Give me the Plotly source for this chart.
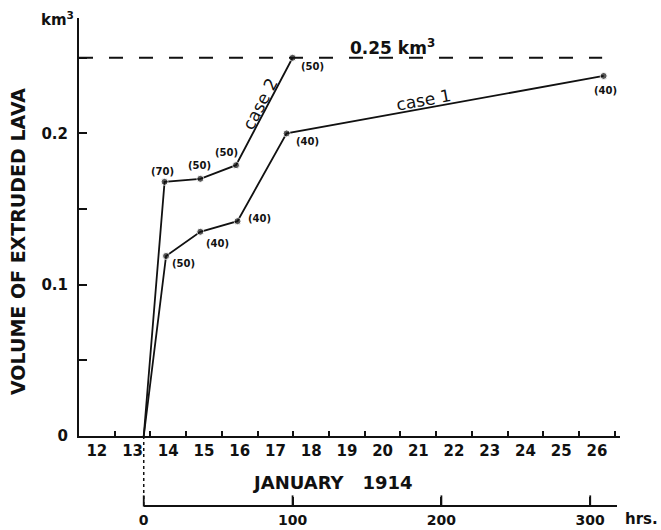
import math
import plotly.graph_objects as go

# Cumulative volume of extruded lava (km^3) against hours since eruption onset
case1_hours = [0, 15, 38, 63, 96, 309]
case1_volume = [0, 0.119, 0.135, 0.142, 0.200, 0.238]
case1_labels = ["", "(50)", "(40)", "(40)", "(40)", "(40)"]

case2_hours = [0, 14, 38, 62, 100]
case2_volume = [0, 0.168, 0.170, 0.179, 0.250]
case2_labels = ["", "(70)", "(50)", "(50)", "(50)"]

total_volume = 0.25
days = list(range(12, 27))
hour_ticks = [0, 100, 200, 300]
y_tickvals = [0, 0.05, 0.10, 0.15, 0.20, 0.25]
y_ticktext = ["0", "", "0.1", "", "0.2", ""]

JAN14_MIDNIGHT = 4.5  # hours from onset to 00:00 on 14 January


def day_start(d):
    return JAN14_MIDNIGHT + 24 * (d - 14)


# ---- geometry -------------------------------------------------------------
W, H = 661, 530
ML, MR, MT, MB = 79, 41, 18, 25
PW, PH = W - ML - MR, H - MT - MB
XMIN, XMAX = day_start(12), day_start(27) + 3.5
YMAX = 0.2763
YDOM0 = 69 / PH
HOURS_END = 318
HOURS_DOM = 0.05          # height fraction of the strip holding the hours axis
HOUR_TICK_PX = 8

px_per_hour = PW / (XMAX - XMIN)
px_per_unit = PH * (1 - YDOM0) / YMAX

FONT = "DejaVu Sans"
INK = "#111111"

fig = go.Figure()


def add_case(hours, vol):
    fig.add_trace(go.Scatter(
        x=hours, y=vol, mode="lines+markers",
        line=dict(color=INK, width=1.8),
        marker=dict(color=INK, size=[0] + [7] * (len(hours) - 1)),
        showlegend=False, hoverinfo="skip",
    ))


add_case(case1_hours, case1_volume)
add_case(case2_hours, case2_volume)

# placeholder trace so the day-label axis gets drawn
fig.add_trace(go.Scatter(x=[None], y=[None], xaxis="x2", yaxis="y",
                         showlegend=False, hoverinfo="skip"))

# upward tick marks on the hours scale
tick_mid = (HOUR_TICK_PX / 2) / (HOURS_DOM * PH)
fig.add_trace(go.Scatter(
    x=hour_ticks, y=[tick_mid] * len(hour_ticks), xaxis="x3", yaxis="y2",
    mode="markers",
    marker=dict(symbol="line-ns", size=HOUR_TICK_PX,
                line=dict(color=INK, width=1.8)),
    showlegend=False, hoverinfo="skip", cliponaxis=False,
))

# ---- point annotations ------------------------------------------------------
label_font = dict(family=FONT, size=10, color=INK, weight="bold")
case1_offsets = [None, (17, -8), (17, -12), (22, 3), (21, -8), (2, -15)]
case2_offsets = [None, (-2, 10), (-1, 13), (-10, 13), (20, -9)]

annotations = []
for hours, vol, labels, offs in [
    (case1_hours, case1_volume, case1_labels, case1_offsets),
    (case2_hours, case2_volume, case2_labels, case2_offsets),
]:
    for h, v, t, o in zip(hours, vol, labels, offs):
        if not t:
            continue
        annotations.append(dict(
            x=h, y=v, xref="x", yref="y", text=t, showarrow=False,
            xanchor="center", yanchor="middle",
            xshift=o[0], yshift=o[1], font=label_font,
        ))


def case_label(hours, vol, i, text, dx, dy):
    h0, h1 = hours[i], hours[i + 1]
    v0, v1 = vol[i], vol[i + 1]
    ang = math.degrees(math.atan2((v1 - v0) * px_per_unit,
                                  (h1 - h0) * px_per_hour))
    return dict(
        x=(h0 + h1) / 2, y=(v0 + v1) / 2, xref="x", yref="y",
        text=text, showarrow=False, textangle=-ang,
        xanchor="center", yanchor="middle",
        xshift=dx, yshift=dy,
        font=dict(family=FONT, size=17, color=INK),
    )


annotations.append(case_label(case2_hours, case2_volume, 3, "case 2", -4, 7))
annotations.append(case_label(case1_hours, case1_volume, 4, "case 1", -22, 5))


def paper_text(px, py, text, size, angle=0):
    return dict(
        x=(px - ML) / PW, y=(H - MB - py) / PH, xref="paper", yref="paper",
        xanchor="center", yanchor="middle", text=text, textangle=angle,
        showarrow=False,
        font=dict(family=FONT, size=size, color=INK, weight="bold"),
    )


annotations += [
    dict(x=167, y=total_volume, xref="x", yref="y", yshift=11,
         xanchor="center", yanchor="middle",
         text="0.25 km<sup>3</sup>", showarrow=False,
         font=dict(family=FONT, size=17, color=INK, weight="bold")),
    paper_text(57, 19, "km<sup>3</sup>", 15),
    paper_text(18, 242, "VOLUME OF EXTRUDED LAVA", 19, -90),
    paper_text(332, 482, "JANUARY\u00a0\u00a0\u00a01914", 18),
    paper_text(641, 519, "hrs.", 15),
]

# ---- reference lines ---------------------------------------------------------
shapes = [
    dict(type="line", xref="x", yref="y", x0=XMIN, x1=case1_hours[-1] - 1,
         y0=total_volume, y1=total_volume,
         line=dict(color=INK, width=2, dash="14px,16px")),
    dict(type="line", xref="x", yref="paper", x0=0, x1=0, y0=0, y1=YDOM0,
         line=dict(color=INK, width=1.5, dash="dot")),
]

tick_font = dict(family=FONT, size=15, color=INK, weight="bold")

fig.update_layout(
    width=W, height=H,
    margin=dict(l=ML, r=MR, t=MT, b=MB, autoexpand=False),
    paper_bgcolor="white", plot_bgcolor="rgba(0,0,0,0)",
    showlegend=False,
    annotations=annotations, shapes=shapes,
    xaxis=dict(
        range=[XMIN, XMAX], anchor="y", automargin=False,
        showline=True, linecolor=INK, linewidth=2,
        tickmode="array", tickvals=[day_start(d) for d in days[1:]] + [day_start(27)],
        ticks="inside", ticklen=5, tickwidth=1.5, tickcolor=INK,
        showticklabels=False, showgrid=False, zeroline=False,
    ),
    xaxis2=dict(
        range=[XMIN, XMAX], overlaying="x", anchor="y", side="bottom",
        automargin=False,
        tickmode="array", tickvals=[day_start(d) + 12 for d in days],
        ticktext=[str(d) for d in days], ticks="", ticklabelstandoff=4,
        tickfont=tick_font, showline=False, showgrid=False, zeroline=False,
    ),
    xaxis3=dict(
        domain=[(0 - XMIN) / (XMAX - XMIN), (HOURS_END - XMIN) / (XMAX - XMIN)],
        range=[0, HOURS_END], anchor="y2", side="bottom", automargin=False,
        showline=True, linecolor=INK, linewidth=2,
        tickmode="array", tickvals=hour_ticks,
        ticks="inside", ticklen=HOUR_TICK_PX, tickwidth=1.8, tickcolor=INK,
        tickfont=dict(family=FONT, size=14, color=INK, weight="bold"),
        ticklabelstandoff=1,
        showgrid=False, zeroline=False,
    ),
    yaxis=dict(
        domain=[YDOM0, 1], range=[0, YMAX], anchor="x", automargin=False,
        showline=True, linecolor=INK, linewidth=2,
        tickmode="array", tickvals=y_tickvals, ticktext=y_ticktext,
        ticks="inside", ticklen=8, tickwidth=1.5, tickcolor=INK,
        tickfont=tick_font, ticklabelstandoff=6,
        showgrid=False, zeroline=False,
    ),
    yaxis2=dict(
        domain=[0, HOURS_DOM], range=[0, 1], anchor="x3", automargin=False,
        showline=False, showticklabels=False, ticks="",
        showgrid=False, zeroline=False,
    ),
)

fig.write_html("out.html")
